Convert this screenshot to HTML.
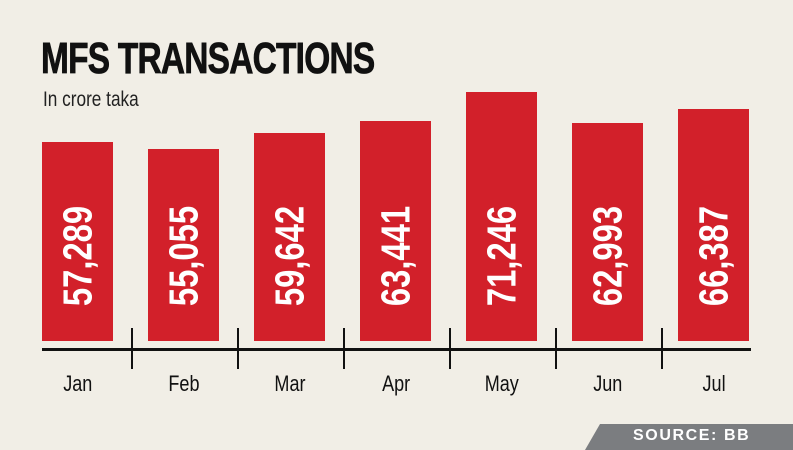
<!DOCTYPE html>
<html><head><style>
body{margin:0;width:793px;height:450px;background:#f1eee6;position:relative;overflow:hidden;font-family:"Liberation Sans",sans-serif}
.t{position:absolute;left:41px;top:34px;font-size:44px;font-weight:bold;letter-spacing:-1px;transform:scaleX(0.76);transform-origin:left;color:#111;-webkit-text-stroke:0.8px #111}
.s{position:absolute;left:43px;top:88px;font-size:21px;transform:scaleX(0.82);transform-origin:left;color:#222}
.b{position:absolute;width:71px;background:#d2202a;bottom:109px}
.v{position:absolute;left:50%;top:256px;transform:translate(-50%,-50%) rotate(-90deg);color:#fff;font-weight:bold;font-size:41px;white-space:nowrap}
.v span{display:inline-block;transform:scaleX(0.8)}
.ax{position:absolute;left:42px;top:348px;width:709px;height:3px;background:#111}
.tk{position:absolute;top:328px;width:2px;height:41px;background:#111}
.l{position:absolute;top:371px;width:106px;text-align:center;font-size:22px;color:#111}
.l span{display:inline-block;transform:scaleX(0.82)}
.src{position:absolute;left:585px;top:424px;width:220px;height:26px;background:#7b7d80;clip-path:polygon(15px 0,100% 0,100% 100%,0 100%)}
.st{position:absolute;left:633px;top:427px;color:#fff;font-weight:bold;font-size:16px;letter-spacing:1.6px}
</style></head><body>
<div class="t">MFS TRANSACTIONS</div>
<div class="s">In crore taka</div>
<div class="b" style="left:42px;top:142px"></div>
<div class="b" style="left:148px;top:149px"></div>
<div class="b" style="left:254px;top:133px"></div>
<div class="b" style="left:360px;top:121px"></div>
<div class="b" style="left:466px;top:92px"></div>
<div class="b" style="left:572px;top:123px"></div>
<div class="b" style="left:678px;top:109px"></div>
<div class="v" style="left:78px"><span>57,289</span></div>
<div class="v" style="left:184px"><span>55,055</span></div>
<div class="v" style="left:290px"><span>59,642</span></div>
<div class="v" style="left:396px"><span>63,441</span></div>
<div class="v" style="left:502px"><span>71,246</span></div>
<div class="v" style="left:608px"><span>62,993</span></div>
<div class="v" style="left:714px"><span>66,387</span></div>
<div class="ax"></div>
<div class="tk" style="left:131px"></div><div class="tk" style="left:237px"></div><div class="tk" style="left:343px"></div><div class="tk" style="left:449px"></div><div class="tk" style="left:555px"></div><div class="tk" style="left:661px"></div>
<div class="l" style="left:25px"><span>Jan</span></div>
<div class="l" style="left:131px"><span>Feb</span></div>
<div class="l" style="left:237px"><span>Mar</span></div>
<div class="l" style="left:343px"><span>Apr</span></div>
<div class="l" style="left:449px"><span>May</span></div>
<div class="l" style="left:555px"><span>Jun</span></div>
<div class="l" style="left:661px"><span>Jul</span></div>
<div class="src"></div>
<div class="st">SOURCE: BB</div>
</body></html>
